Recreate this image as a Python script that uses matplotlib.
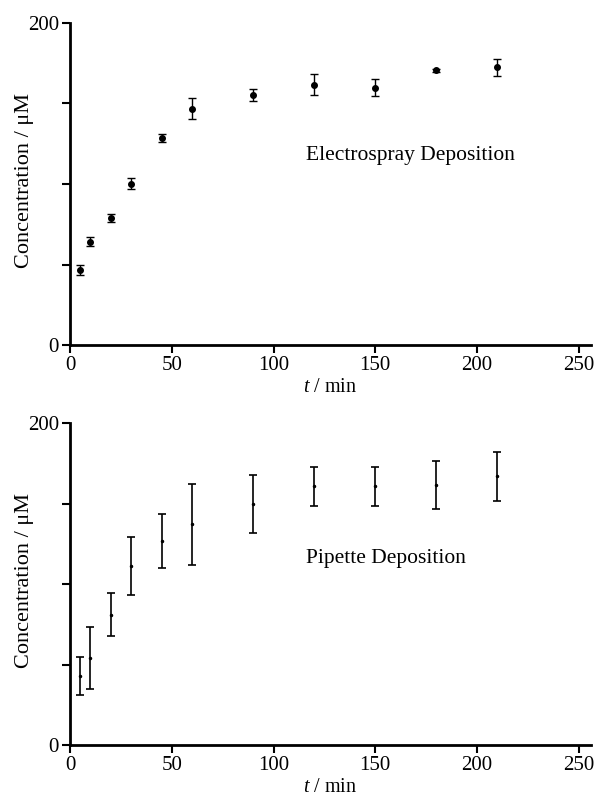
import matplotlib
matplotlib.use("Agg")
import matplotlib.pyplot as plt

plt.rcParams['font.family'] = ['Liberation Serif', 'DejaVu Serif']
plt.rcParams['mathtext.fontset'] = 'custom'
plt.rcParams['mathtext.rm'] = 'Liberation Serif'
plt.rcParams['mathtext.it'] = 'Liberation Serif:italic'

t_es = [5, 10, 20, 30, 45, 60, 90, 120, 150, 180, 210]
c_es = [46.4, 64.2, 78.8, 100.3, 128.6, 146.7, 155.2, 161.6, 159.8, 170.5, 172.6]
e_es = [3.1, 2.9, 2.7, 3.6, 2.6, 6.6, 3.5, 6.5, 5.4, 1.0, 5.3]

t_pp = [5, 10, 20, 30, 45, 60, 90, 120, 150, 180, 210]
c_pp = [42.9, 54.1, 80.9, 111.0, 126.5, 137.0, 149.8, 160.6, 160.6, 161.2, 167.0]
e_pp = [11.9, 19.2, 13.2, 17.9, 16.7, 24.9, 18.0, 11.9, 11.9, 14.9, 15.2]

fig = plt.figure(figsize=(5.94, 8.02), dpi=100)
W, H = 594, 802
LEFT, RIGHT = 70, 591

def make_ax(top_px, bottom_px):
    return fig.add_axes([LEFT / W, 1 - bottom_px / H, (RIGHT - LEFT) / W, (bottom_px - top_px) / H])

ax1 = make_ax(23, 345)
ax2 = make_ax(423, 745)

def style(ax):
    ax.set_xlim(0, 256)
    ax.set_ylim(0, 200)
    ax.set_xticks([0, 50, 100, 150, 200, 250])
    ax.set_yticks([0, 50, 100, 150, 200])
    ax.set_yticklabels(['0', '', '', '', '200'])
    for s in ['top', 'right']:
        ax.spines[s].set_visible(False)
    for s in ['left', 'bottom']:
        ax.spines[s].set_linewidth(2)
    ax.tick_params(direction='out', length=6, width=1.5, labelsize=15, pad=2)
    ax.set_xlabel('$\\it{t}$ / min', fontsize=14.5, labelpad=2)
    ax.set_ylabel('Concentration / μM', fontsize=16)
    ax.yaxis.set_label_coords((34 - LEFT) / (RIGHT - LEFT), 0.51)

ax1.errorbar(t_es, c_es, yerr=e_es, fmt='o', color='black', markersize=4,
             elinewidth=1, capsize=3, capthick=1)
ax1.text(116, 118, 'Electrospray Deposition', fontsize=15.5, ha='left', va='center')
style(ax1)

ax2.errorbar(t_pp, c_pp, yerr=e_pp, fmt='o', color='black', markersize=1.5,
             elinewidth=1.2, capsize=3, capthick=1.2)
ax2.text(116, 116, 'Pipette Deposition', fontsize=15.5, ha='left', va='center')
style(ax2)

fig.savefig('out.png', dpi=100)
